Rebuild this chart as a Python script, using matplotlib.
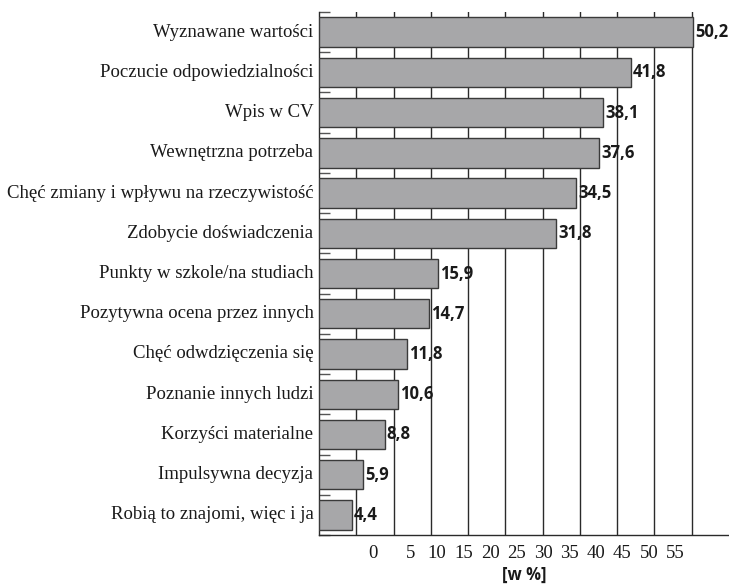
import matplotlib
matplotlib.use("Agg")
import matplotlib.pyplot as plt
import numpy as np

categories = [
    "Wyznawane wartości",
    "Poczucie odpowiedzialności",
    "Wpis w CV",
    "Wewnętrzna potrzeba",
    "Chęć zmiany i wpływu na rzeczywistość",
    "Zdobycie doświadczenia",
    "Punkty w szkole/na studiach",
    "Pozytywna ocena przez innych",
    "Chęć odwdzięczenia się",
    "Poznanie innych ludzi",
    "Korzyści materialne",
    "Impulsywna decyzja",
    "Robią to znajomi, więc i ja",
]
values = [50.2, 41.8, 38.1, 37.6, 34.5, 31.8, 15.9, 14.7, 11.8, 10.6, 8.8, 5.9, 4.4]
value_labels = ["50,2", "41,8", "38,1", "37,6", "34,5", "31,8", "15,9", "14,7",
                "11,8", "10,6", "8,8", "5,9", "4,4"]
tick_values = [0, 5, 10, 15, 20, 25, 30, 35, 40, 45, 50, 55]
grid_values = [5, 10, 15, 20, 25, 30, 35, 40, 45, 50]
axis_label = "[w %]"

fig = plt.figure(figsize=(7.29, 5.84), dpi=100)
ax = fig.add_axes([0.4376, 0.0839, 0.5624, 0.8955])

y = np.arange(len(categories))
ax.barh(y, values, height=0.73, color="#a7a7a9", edgecolor="#3a3a3a",
        linewidth=1.0, zorder=3)

for gv in grid_values:
    ax.axvline(gv, color="#2a2a2a", linewidth=1.0, zorder=1)

for yi, v, lab in zip(y, values, value_labels):
    ax.text(v + 0.3, yi, lab, va="center", ha="left", fontsize=12,
            fontweight="bold", family="Open Sans", color="#1a1a1a", zorder=4)

ax.set_ylim(len(categories) - 0.5, -0.5)
ax.set_xlim(0, 55)

# category labels as text, boundaries as tick marks
ax.set_yticks(np.arange(len(categories) + 1) - 0.5)
ax.set_yticklabels([])
ax.tick_params(axis="y", direction="in", length=8, width=1.0, color="#555555")
for yi, cat in zip(y, categories):
    ax.text(-0.75, yi, cat, ha="right", va="center", fontsize=13.5,
            family="Liberation Serif", color="#1a1a1a")

# x tick labels (shifted as in the original print)
tick_pos = [8.75 + 0.71 * t - (1.5 if t == 0 else 0.0) for t in tick_values]
ax.set_xticks(tick_pos)
ax.set_xticklabels([str(t) for t in tick_values], family="Liberation Serif",
                   fontsize=13.5, color="#1a1a1a")
ax.tick_params(axis="x", length=0, pad=7)

ax.text(0.5, -0.0765, axis_label, transform=ax.transAxes, ha="center",
        va="center", fontsize=12, fontweight="bold", family="Open Sans",
        color="#1a1a1a")

for s in ["top", "right"]:
    ax.spines[s].set_visible(False)
ax.spines["left"].set_color("#2a2a2a")
ax.spines["bottom"].set_color("#2a2a2a")
ax.spines["left"].set_linewidth(1.0)
ax.spines["bottom"].set_linewidth(1.0)

fig.savefig("out.png", dpi=100)
